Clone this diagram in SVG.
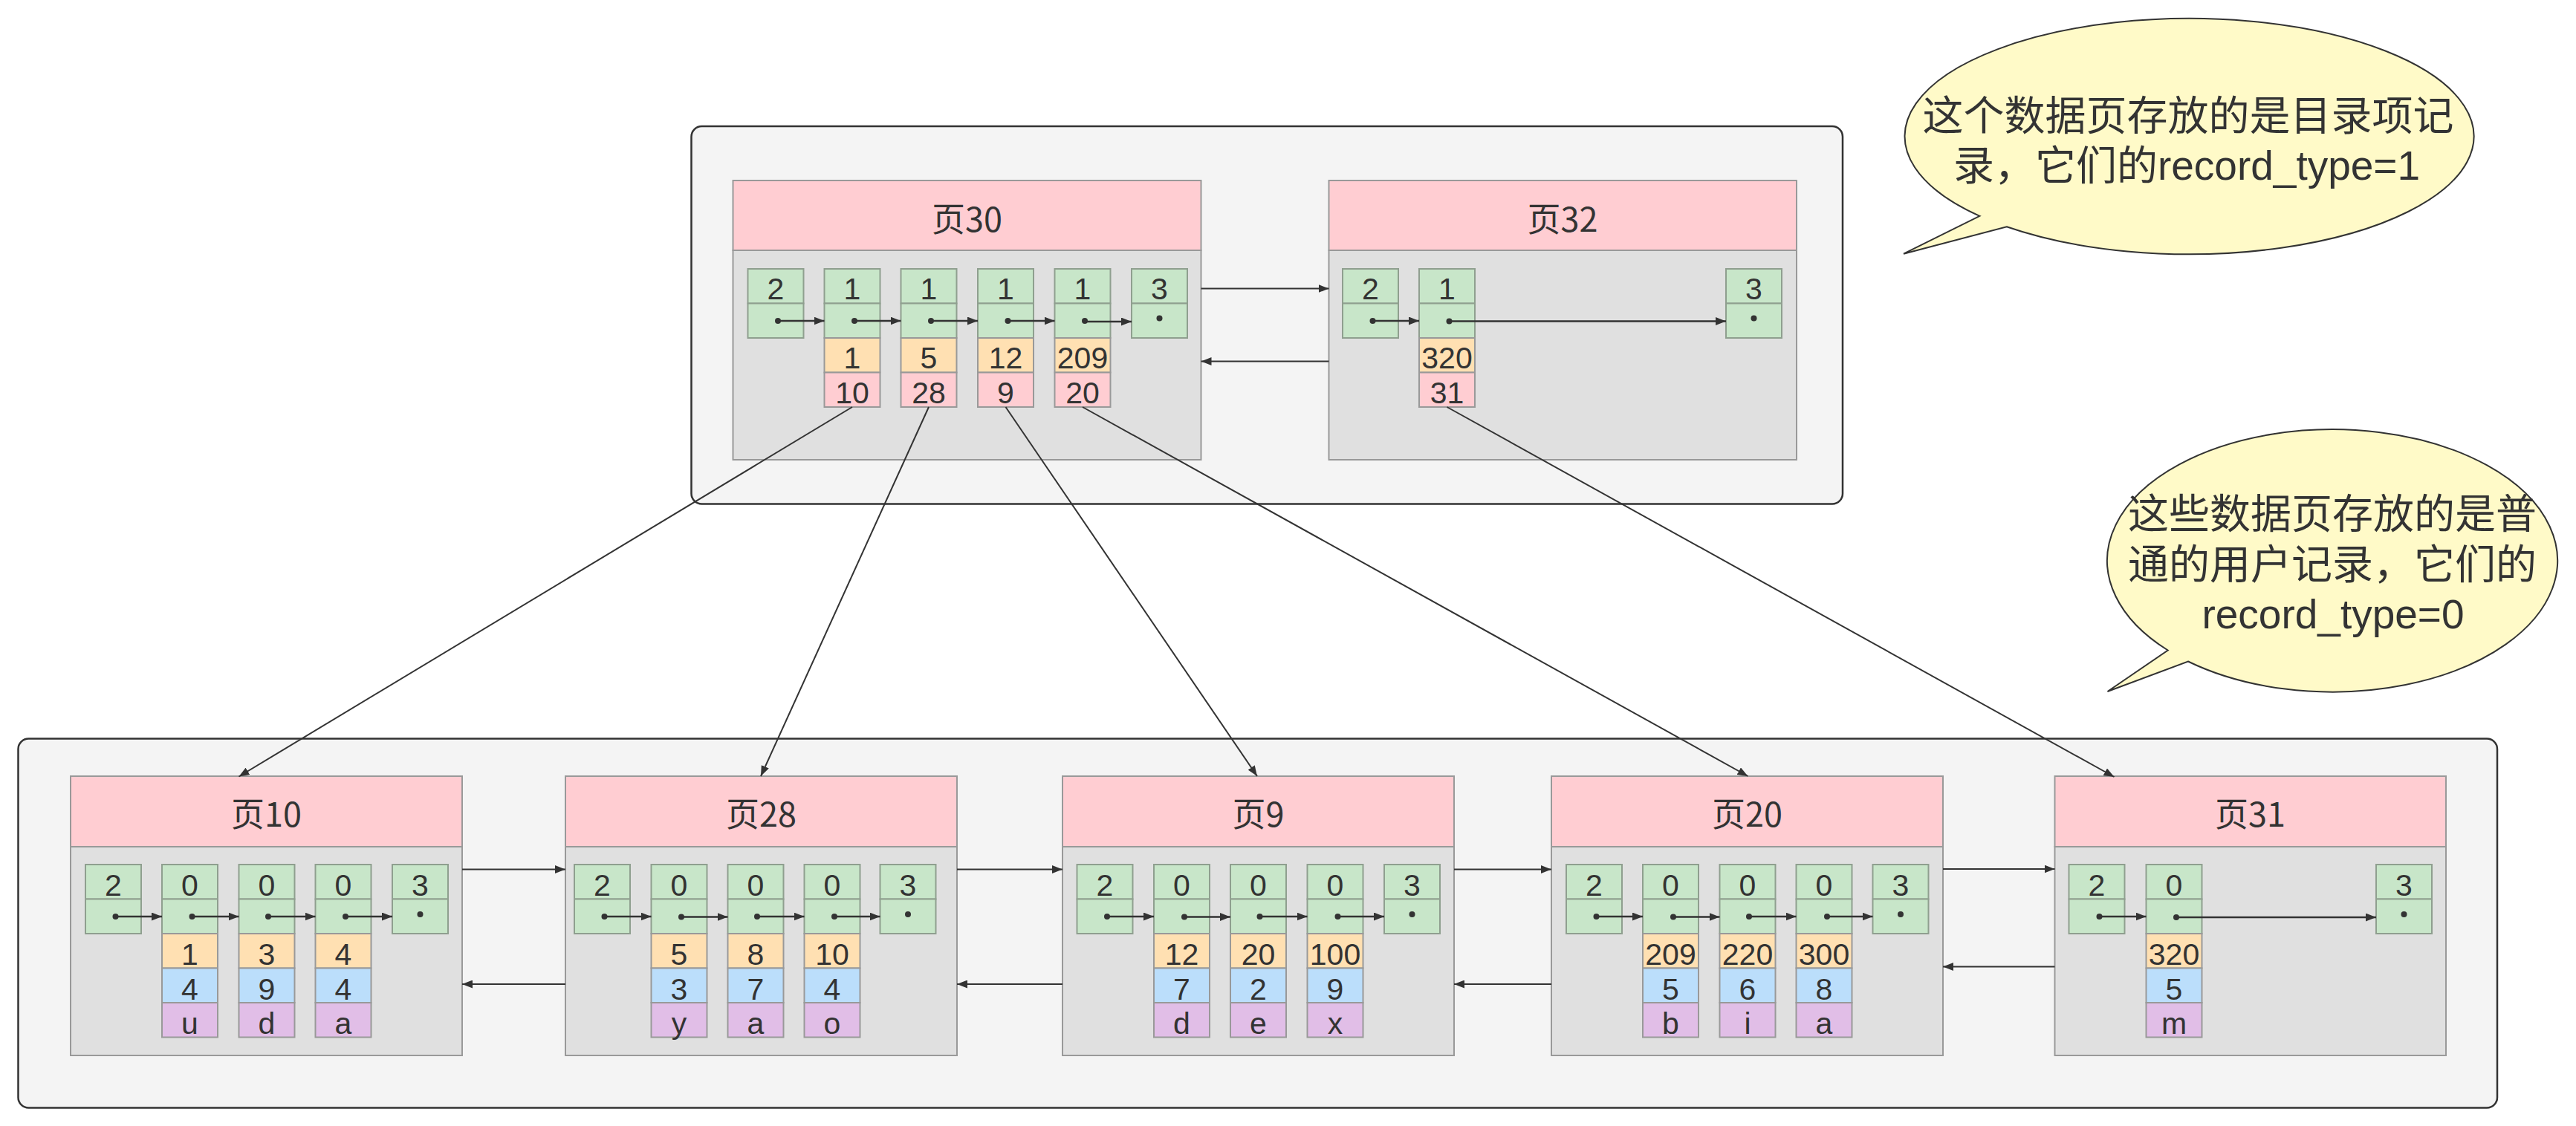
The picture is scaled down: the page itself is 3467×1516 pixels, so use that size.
<svg xmlns="http://www.w3.org/2000/svg" width="3467" height="1516" viewBox="0 0 3467 1516">
<style>
.ctr{fill:#f4f4f4;stroke:#333;stroke-width:2.5}
.hd{fill:#ffcdd2;stroke:#999;stroke-width:2}
.bd{fill:#e0e0e0;stroke:#999;stroke-width:2}
.g{fill:#c8e6c9;stroke:#8f9f8f;stroke-width:2}
.o{fill:#ffe0b2;stroke:#999;stroke-width:2}
.p{fill:#ffcdd2;stroke:#999;stroke-width:2}
.b{fill:#bbdefb;stroke:#999;stroke-width:2}
.v{fill:#e1bee7;stroke:#999;stroke-width:2}
text{font-family:"Noto Sans CJK SC","Noto Sans",sans-serif;fill:#333;text-anchor:middle}
.c{font-family:"Liberation Sans","Noto Sans CJK SC",sans-serif;font-size:41px}
.h{font-size:45px}
.n{font-family:"Liberation Sans","Noto Sans CJK SC",sans-serif;font-size:55px}
.dot{fill:#333}
.lk{stroke:#333;stroke-width:2.5;fill:none;marker-end:url(#ah)}
.cn{stroke:#333;stroke-width:2;fill:none;marker-end:url(#ah)}
.bub{fill:#fffac8;stroke:#333;stroke-width:2}
</style>
<defs>
<marker id="ah" markerUnits="userSpaceOnUse" markerWidth="15" markerHeight="11" refX="14" refY="5.5" orient="auto">
<path d="M0,0 L14,5.5 L0,11 Z" fill="#333"/>
</marker>
</defs>
<rect width="3467" height="1516" fill="#ffffff"/>

<g id="containers">
<rect id="top-container" class="ctr" x="930.5" y="170" width="1549.5" height="508.5" rx="14"/>
<rect id="bottom-container" class="ctr" x="24.5" y="994.5" width="3336.5" height="497" rx="14"/>
</g>

<g id="page30">
<rect class="hd" x="986.5" y="243" width="630" height="94"/>
<rect class="bd" x="986.5" y="337" width="630" height="282"/>
<text class="h" x="1301.5" y="312">页30</text>
<rect class="g" x="1006.5" y="362" width="75" height="46.5"/><rect class="g" x="1006.5" y="408.5" width="75" height="46.5"/>
<rect class="g" x="1109.5" y="362" width="75" height="46.5"/><rect class="g" x="1109.5" y="408.5" width="75" height="46.5"/>
<rect class="g" x="1212.5" y="362" width="75" height="46.5"/><rect class="g" x="1212.5" y="408.5" width="75" height="46.5"/>
<rect class="g" x="1316" y="362" width="75" height="46.5"/><rect class="g" x="1316" y="408.5" width="75" height="46.5"/>
<rect class="g" x="1419.5" y="362" width="75" height="46.5"/><rect class="g" x="1419.5" y="408.5" width="75" height="46.5"/>
<rect class="g" x="1523" y="362" width="75" height="46.5"/><rect class="g" x="1523" y="408.5" width="75" height="46.5"/>
<rect class="o" x="1109.5" y="455" width="75" height="46.5"/><rect class="p" x="1109.5" y="501.5" width="75" height="46.5"/>
<rect class="o" x="1212.5" y="455" width="75" height="46.5"/><rect class="p" x="1212.5" y="501.5" width="75" height="46.5"/>
<rect class="o" x="1316" y="455" width="75" height="46.5"/><rect class="p" x="1316" y="501.5" width="75" height="46.5"/>
<rect class="o" x="1419.5" y="455" width="75" height="46.5"/><rect class="p" x="1419.5" y="501.5" width="75" height="46.5"/>
<text class="c" x="1044" y="403">2</text><text class="c" x="1147" y="403">1</text><text class="c" x="1250" y="403">1</text><text class="c" x="1353.5" y="403">1</text><text class="c" x="1457" y="403">1</text><text class="c" x="1560.5" y="403">3</text>
<text class="c" x="1147" y="496">1</text><text class="c" x="1250" y="496">5</text><text class="c" x="1353.5" y="496">12</text><text class="c" x="1457" y="496">209</text>
<text class="c" x="1147" y="542.5">10</text><text class="c" x="1250" y="542.5">28</text><text class="c" x="1353.5" y="542.5">9</text><text class="c" x="1457" y="542.5">20</text>
<circle class="dot" cx="1047" cy="432" r="4"/><circle class="dot" cx="1150" cy="432" r="4"/><circle class="dot" cx="1253" cy="432" r="4"/><circle class="dot" cx="1356.5" cy="432" r="4"/><circle class="dot" cx="1460" cy="432" r="4"/><circle class="dot" cx="1560.5" cy="428.5" r="4"/>
<path class="lk" d="M1047,432 H1109.5"/><path class="lk" d="M1150,432 H1212.5"/><path class="lk" d="M1253,432 H1316"/><path class="lk" d="M1356.5,432 H1419.5"/><path class="lk" d="M1460,433 H1523"/>
</g>

<g id="page32">
<rect class="hd" x="1788.5" y="243" width="629.5" height="94"/>
<rect class="bd" x="1788.5" y="337" width="629.5" height="282"/>
<text class="h" x="2103" y="312">页32</text>
<rect class="g" x="1807" y="362" width="75" height="46.5"/><rect class="g" x="1807" y="408.5" width="75" height="46.5"/>
<rect class="g" x="1910" y="362" width="75" height="46.5"/><rect class="g" x="1910" y="408.5" width="75" height="46.5"/>
<rect class="g" x="2323" y="362" width="75" height="46.5"/><rect class="g" x="2323" y="408.5" width="75" height="46.5"/>
<rect class="o" x="1910" y="455" width="75" height="46.5"/><rect class="p" x="1910" y="501.5" width="75" height="46.5"/>
<text class="c" x="1844.5" y="403">2</text><text class="c" x="1947.5" y="403">1</text><text class="c" x="2360.5" y="403">3</text>
<text class="c" x="1947.5" y="496">320</text><text class="c" x="1947.5" y="542.5">31</text>
<circle class="dot" cx="1847.5" cy="432" r="4"/><circle class="dot" cx="1950.5" cy="432.5" r="4"/><circle class="dot" cx="2360.5" cy="428.5" r="4"/>
<path class="lk" d="M1847.5,432 H1910"/><path class="lk" d="M1950.5,432.5 H2323"/>
</g>

<g id="page10">
<rect class="hd" x="95" y="1045" width="527" height="95"/>
<rect class="bd" x="95" y="1140" width="527" height="281"/>
<text class="h" x="358.5" y="1113">页10</text>
<rect class="g" x="115" y="1164" width="75" height="46.5"/><rect class="g" x="115" y="1210.5" width="75" height="46.5"/>
<rect class="g" x="218" y="1164" width="75" height="46.5"/><rect class="g" x="218" y="1210.5" width="75" height="46.5"/>
<rect class="g" x="321.5" y="1164" width="75" height="46.5"/><rect class="g" x="321.5" y="1210.5" width="75" height="46.5"/>
<rect class="g" x="424.5" y="1164" width="75" height="46.5"/><rect class="g" x="424.5" y="1210.5" width="75" height="46.5"/>
<rect class="g" x="528" y="1164" width="75" height="46.5"/><rect class="g" x="528" y="1210.5" width="75" height="46.5"/>
<rect class="o" x="218" y="1257" width="75" height="46.5"/><rect class="b" x="218" y="1303.5" width="75" height="46.5"/><rect class="v" x="218" y="1350" width="75" height="46.5"/>
<rect class="o" x="321.5" y="1257" width="75" height="46.5"/><rect class="b" x="321.5" y="1303.5" width="75" height="46.5"/><rect class="v" x="321.5" y="1350" width="75" height="46.5"/>
<rect class="o" x="424.5" y="1257" width="75" height="46.5"/><rect class="b" x="424.5" y="1303.5" width="75" height="46.5"/><rect class="v" x="424.5" y="1350" width="75" height="46.5"/>
<text class="c" x="152.5" y="1206">2</text><text class="c" x="255.5" y="1206">0</text><text class="c" x="359" y="1206">0</text><text class="c" x="462" y="1206">0</text><text class="c" x="565.5" y="1206">3</text>
<text class="c" x="255.5" y="1299">1</text><text class="c" x="359" y="1299">3</text><text class="c" x="462" y="1299">4</text>
<text class="c" x="255.5" y="1345.5">4</text><text class="c" x="359" y="1345.5">9</text><text class="c" x="462" y="1345.5">4</text>
<text class="c" x="255.5" y="1392">u</text><text class="c" x="359" y="1392">d</text><text class="c" x="462" y="1392">a</text>
<circle class="dot" cx="155.5" cy="1234" r="4"/><circle class="dot" cx="258.5" cy="1234" r="4"/><circle class="dot" cx="361" cy="1234" r="4"/><circle class="dot" cx="465" cy="1234" r="4"/><circle class="dot" cx="565.5" cy="1231" r="4"/>
<path class="lk" d="M155.5,1234 H218"/><path class="lk" d="M258.5,1234 H321.5"/><path class="lk" d="M361,1234 H424.5"/><path class="lk" d="M465,1234 H528"/>
</g>

<g id="page28">
<rect class="hd" x="761" y="1045" width="527" height="95"/>
<rect class="bd" x="761" y="1140" width="527" height="281"/>
<text class="h" x="1024.5" y="1113">页28</text>
<rect class="g" x="773" y="1164" width="75" height="46.5"/><rect class="g" x="773" y="1210.5" width="75" height="46.5"/>
<rect class="g" x="876.5" y="1164" width="75" height="46.5"/><rect class="g" x="876.5" y="1210.5" width="75" height="46.5"/>
<rect class="g" x="979.5" y="1164" width="75" height="46.5"/><rect class="g" x="979.5" y="1210.5" width="75" height="46.5"/>
<rect class="g" x="1082.5" y="1164" width="75" height="46.5"/><rect class="g" x="1082.5" y="1210.5" width="75" height="46.5"/>
<rect class="g" x="1184.5" y="1164" width="75" height="46.5"/><rect class="g" x="1184.5" y="1210.5" width="75" height="46.5"/>
<rect class="o" x="876.5" y="1257" width="75" height="46.5"/><rect class="b" x="876.5" y="1303.5" width="75" height="46.5"/><rect class="v" x="876.5" y="1350" width="75" height="46.5"/>
<rect class="o" x="979.5" y="1257" width="75" height="46.5"/><rect class="b" x="979.5" y="1303.5" width="75" height="46.5"/><rect class="v" x="979.5" y="1350" width="75" height="46.5"/>
<rect class="o" x="1082.5" y="1257" width="75" height="46.5"/><rect class="b" x="1082.5" y="1303.5" width="75" height="46.5"/><rect class="v" x="1082.5" y="1350" width="75" height="46.5"/>
<text class="c" x="810.5" y="1206">2</text><text class="c" x="914" y="1206">0</text><text class="c" x="1017" y="1206">0</text><text class="c" x="1120" y="1206">0</text><text class="c" x="1222" y="1206">3</text>
<text class="c" x="914" y="1299">5</text><text class="c" x="1017" y="1299">8</text><text class="c" x="1120" y="1299">10</text>
<text class="c" x="914" y="1345.5">3</text><text class="c" x="1017" y="1345.5">7</text><text class="c" x="1120" y="1345.5">4</text>
<text class="c" x="914" y="1392">y</text><text class="c" x="1017" y="1392">a</text><text class="c" x="1120" y="1392">o</text>
<circle class="dot" cx="813.5" cy="1234" r="4"/><circle class="dot" cx="917" cy="1234.5" r="4"/><circle class="dot" cx="1019" cy="1234" r="4"/><circle class="dot" cx="1123" cy="1234" r="4"/><circle class="dot" cx="1222" cy="1231" r="4"/>
<path class="lk" d="M813.5,1234 H876.5"/><path class="lk" d="M917,1234.5 H979.5"/><path class="lk" d="M1019,1234 H1082.5"/><path class="lk" d="M1123,1234 H1184.5"/>
</g>

<g id="page9">
<rect class="hd" x="1430" y="1045" width="527" height="95"/>
<rect class="bd" x="1430" y="1140" width="527" height="281"/>
<text class="h" x="1693.5" y="1113">页9</text>
<rect class="g" x="1449.5" y="1164" width="75" height="46.5"/><rect class="g" x="1449.5" y="1210.5" width="75" height="46.5"/>
<rect class="g" x="1553" y="1164" width="75" height="46.5"/><rect class="g" x="1553" y="1210.5" width="75" height="46.5"/>
<rect class="g" x="1656" y="1164" width="75" height="46.5"/><rect class="g" x="1656" y="1210.5" width="75" height="46.5"/>
<rect class="g" x="1759.5" y="1164" width="75" height="46.5"/><rect class="g" x="1759.5" y="1210.5" width="75" height="46.5"/>
<rect class="g" x="1863" y="1164" width="75" height="46.5"/><rect class="g" x="1863" y="1210.5" width="75" height="46.5"/>
<rect class="o" x="1553" y="1257" width="75" height="46.5"/><rect class="b" x="1553" y="1303.5" width="75" height="46.5"/><rect class="v" x="1553" y="1350" width="75" height="46.5"/>
<rect class="o" x="1656" y="1257" width="75" height="46.5"/><rect class="b" x="1656" y="1303.5" width="75" height="46.5"/><rect class="v" x="1656" y="1350" width="75" height="46.5"/>
<rect class="o" x="1759.5" y="1257" width="75" height="46.5"/><rect class="b" x="1759.5" y="1303.5" width="75" height="46.5"/><rect class="v" x="1759.5" y="1350" width="75" height="46.5"/>
<text class="c" x="1487" y="1206">2</text><text class="c" x="1590.5" y="1206">0</text><text class="c" x="1693.5" y="1206">0</text><text class="c" x="1797" y="1206">0</text><text class="c" x="1900.5" y="1206">3</text>
<text class="c" x="1590.5" y="1299">12</text><text class="c" x="1693.5" y="1299">20</text><text class="c" x="1797" y="1299">100</text>
<text class="c" x="1590.5" y="1345.5">7</text><text class="c" x="1693.5" y="1345.5">2</text><text class="c" x="1797" y="1345.5">9</text>
<text class="c" x="1590.5" y="1392">d</text><text class="c" x="1693.5" y="1392">e</text><text class="c" x="1797" y="1392">x</text>
<circle class="dot" cx="1490" cy="1234" r="4"/><circle class="dot" cx="1594" cy="1234.5" r="4"/><circle class="dot" cx="1695.5" cy="1234" r="4"/><circle class="dot" cx="1800.5" cy="1234" r="4"/><circle class="dot" cx="1900.5" cy="1231" r="4"/>
<path class="lk" d="M1490,1234 H1553"/><path class="lk" d="M1594,1234.5 H1656"/><path class="lk" d="M1695.5,1234 H1759.5"/><path class="lk" d="M1800.5,1234 H1863"/>
</g>

<g id="page20">
<rect class="hd" x="2088" y="1045" width="527" height="95"/>
<rect class="bd" x="2088" y="1140" width="527" height="281"/>
<text class="h" x="2351.5" y="1113">页20</text>
<rect class="g" x="2108" y="1164" width="75" height="46.5"/><rect class="g" x="2108" y="1210.5" width="75" height="46.5"/>
<rect class="g" x="2211" y="1164" width="75" height="46.5"/><rect class="g" x="2211" y="1210.5" width="75" height="46.5"/>
<rect class="g" x="2314.5" y="1164" width="75" height="46.5"/><rect class="g" x="2314.5" y="1210.5" width="75" height="46.5"/>
<rect class="g" x="2417.5" y="1164" width="75" height="46.5"/><rect class="g" x="2417.5" y="1210.5" width="75" height="46.5"/>
<rect class="g" x="2520.5" y="1164" width="75" height="46.5"/><rect class="g" x="2520.5" y="1210.5" width="75" height="46.5"/>
<rect class="o" x="2211" y="1257" width="75" height="46.5"/><rect class="b" x="2211" y="1303.5" width="75" height="46.5"/><rect class="v" x="2211" y="1350" width="75" height="46.5"/>
<rect class="o" x="2314.5" y="1257" width="75" height="46.5"/><rect class="b" x="2314.5" y="1303.5" width="75" height="46.5"/><rect class="v" x="2314.5" y="1350" width="75" height="46.5"/>
<rect class="o" x="2417.5" y="1257" width="75" height="46.5"/><rect class="b" x="2417.5" y="1303.5" width="75" height="46.5"/><rect class="v" x="2417.5" y="1350" width="75" height="46.5"/>
<text class="c" x="2145.5" y="1206">2</text><text class="c" x="2248.5" y="1206">0</text><text class="c" x="2352" y="1206">0</text><text class="c" x="2455" y="1206">0</text><text class="c" x="2558" y="1206">3</text>
<text class="c" x="2248.5" y="1299">209</text><text class="c" x="2352" y="1299">220</text><text class="c" x="2455" y="1299">300</text>
<text class="c" x="2248.5" y="1345.5">5</text><text class="c" x="2352" y="1345.5">6</text><text class="c" x="2455" y="1345.5">8</text>
<text class="c" x="2248.5" y="1392">b</text><text class="c" x="2352" y="1392">i</text><text class="c" x="2455" y="1392">a</text>
<circle class="dot" cx="2148.5" cy="1234" r="4"/><circle class="dot" cx="2252" cy="1234.5" r="4"/><circle class="dot" cx="2354" cy="1234" r="4"/><circle class="dot" cx="2459" cy="1234" r="4"/><circle class="dot" cx="2558" cy="1231" r="4"/>
<path class="lk" d="M2148.5,1234 H2211"/><path class="lk" d="M2252,1234.5 H2314.5"/><path class="lk" d="M2354,1234 H2417.5"/><path class="lk" d="M2459,1234 H2520.5"/>
</g>

<g id="page31">
<rect class="hd" x="2765.5" y="1045" width="526.5" height="95"/>
<rect class="bd" x="2765.5" y="1140" width="526.5" height="281"/>
<text class="h" x="3028.5" y="1113">页31</text>
<rect class="g" x="2784.5" y="1164" width="75" height="46.5"/><rect class="g" x="2784.5" y="1210.5" width="75" height="46.5"/>
<rect class="g" x="2888.5" y="1164" width="75" height="46.5"/><rect class="g" x="2888.5" y="1210.5" width="75" height="46.5"/>
<rect class="g" x="3198" y="1164" width="75" height="46.5"/><rect class="g" x="3198" y="1210.5" width="75" height="46.5"/>
<rect class="o" x="2888.5" y="1257" width="75" height="46.5"/><rect class="b" x="2888.5" y="1303.5" width="75" height="46.5"/><rect class="v" x="2888.5" y="1350" width="75" height="46.5"/>
<text class="c" x="2822" y="1206">2</text><text class="c" x="2926" y="1206">0</text><text class="c" x="3235.5" y="1206">3</text>
<text class="c" x="2926" y="1299">320</text><text class="c" x="2926" y="1345.5">5</text><text class="c" x="2926" y="1392">m</text>
<circle class="dot" cx="2825.5" cy="1234" r="4"/><circle class="dot" cx="2929" cy="1235" r="4"/><circle class="dot" cx="3235.5" cy="1231" r="4"/>
<path class="lk" d="M2825.5,1234 H2888.5"/><path class="lk" d="M2929,1235 H3198"/>
</g>

<g id="note-directory">
<path class="bub" d="M2664.4,290.9 A383,158.7 0 1 1 2700.8,305.3 L2562,341.7 Z"/>
<text class="n" x="2945" y="175">这个数据页存放的是目录项记</text>
<text class="n" x="2943" y="242">录，它们的record_type=1</text>
</g>

<g id="note-user">
<path class="bub" d="M2917.7,875.5 A303,176.7 0 1 1 2944.9,890.5 L2836.5,931 Z"/>
<text class="n" x="3139" y="711">这些数据页存放的是普</text>
<text class="n" x="3139" y="778.5">通的用户记录，它们的</text>
<text class="n" x="3140" y="846">record_type=0</text>
</g>

<g id="connectors">
<path class="cn" d="M1616.5,388.5 H1788.5"/>
<path class="cn" d="M1788.5,486.5 H1616.5"/>
<path class="cn" d="M1147,548 L321.5,1045.5"/>
<path class="cn" d="M1250,548 L1024,1045"/>
<path class="cn" d="M1353.5,548 L1692,1045"/>
<path class="cn" d="M1457,548 L2352.5,1045"/>
<path class="cn" d="M1947.5,548 L2845.5,1046"/>
<path class="cn" d="M622,1170.5 H761"/>
<path class="cn" d="M761,1325 H622"/>
<path class="cn" d="M1288,1170.5 H1430"/>
<path class="cn" d="M1430,1325 H1288"/>
<path class="cn" d="M1957,1170.5 H2088"/>
<path class="cn" d="M2088,1325 H1957"/>
<path class="cn" d="M2615,1170 H2765.5"/>
<path class="cn" d="M2765.5,1301.5 H2615"/>
</g>
</svg>
